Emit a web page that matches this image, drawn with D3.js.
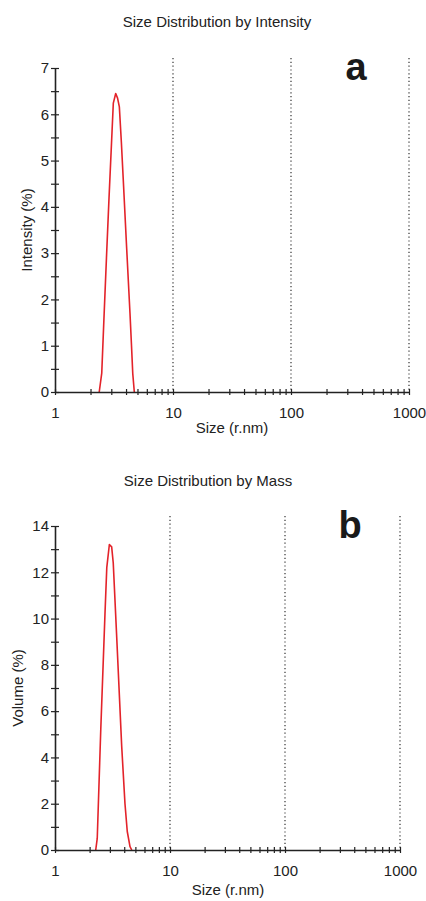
<!DOCTYPE html>
<html>
<head>
<meta charset="utf-8">
<script src="https://cdn.jsdelivr.net/npm/d3@7"></script>
<style>
  body { margin: 0; background: #fff; }
  svg text { font-family: "Liberation Sans", Arial, sans-serif; fill: #222; }
</style>
</head>
<body>
<svg id="chart" width="426" height="901"></svg>
<script>
// panel a - intensity
const sizesA = [2.37, 2.49, 2.60, 2.73, 2.87, 3.02, 3.12, 3.27, 3.39, 3.51, 3.65, 3.79, 4.05, 4.32, 4.45, 4.56, 4.70];
const intensityA = [0, 0.41, 1.6, 2.9, 4.2, 5.44, 6.24, 6.45, 6.35, 6.16, 5.4, 4.58, 3.1, 1.7, 1.0, 0.4, 0];

// panel b - mass
const sizesB = [2.26, 2.33, 2.50, 2.72, 2.82, 2.97, 3.11, 3.21, 3.44, 3.80, 4.06, 4.25, 4.49, 4.65];
const volumeB = [0, 0.5, 5.2, 10.2, 12.2, 13.2, 13.1, 12.4, 9.2, 4.5, 2.0, 0.8, 0.15, 0];

const xDomain = [1, 1000];
const xLabelTicks = [1, 10, 100, 1000];
const gridTicks = [10, 100, 1000];
const yTicksA = [0, 1, 2, 3, 4, 5, 6, 7];
const yTicksB = [0, 2, 4, 6, 8, 10, 12, 14];

const svg = d3.select("#chart");

function drawPanel(opt) {
    const x = d3.scaleLog().domain(xDomain).range([opt.left, opt.right]);
    const y = d3.scaleLinear().domain([0, d3.max(opt.yTicks)]).range([opt.bottom, opt.top]);
    const g = svg.append("g");

    // dotted decade lines
    g.selectAll("line.grid")
        .data(gridTicks)
        .enter().append("line")
        .attr("class", "grid")
        .attr("x1", d => x(d)).attr("x2", d => x(d))
        .attr("y1", opt.top - 10).attr("y2", opt.bottom)
        .attr("stroke", "#333")
        .attr("stroke-width", 1.2)
        .attr("stroke-dasharray", "1.2,2.6");

    // curve
    const pts = opt.sizes.map((s, i) => [s, opt.values[i]]);
    const line = d3.line()
        .x(d => x(d[0]))
        .y(d => y(d[1]));
    g.append("path")
        .datum(pts)
        .attr("fill", "none")
        .attr("stroke", "#e3232a")
        .attr("stroke-width", 1.6)
        .attr("stroke-linejoin", "round")
        .attr("d", line);

    // x axis: all 1..9 per decade, labels only at decades
    const allTicks = [];
    for (let p = 1; p < 1000; p *= 10) {
        for (let k = 1; k < 10; k++) allTicks.push(k * p);
    }
    allTicks.push(1000);
    const xAxis = g.append("g")
        .attr("transform", `translate(0,${opt.bottom})`)
        .call(d3.axisBottom(x).tickValues(allTicks).tickSize(3).tickSizeOuter(0)
            .tickFormat(d => xLabelTicks.includes(d) ? d : ""));
    xAxis.selectAll(".tick line").attr("y1", -3).attr("stroke", "#222").attr("stroke-width", 1.2);
    xAxis.selectAll(".tick text").attr("y", 26).attr("dy", 0).style("font-size", "15px");
    xAxis.select(".domain").attr("stroke", "#222").attr("stroke-width", 1.6);

    // y axis with half-step minor ticks
    const step = opt.yTicks[1] - opt.yTicks[0];
    const minor = opt.yTicks.slice(1).map(v => v - step / 2);
    const yMinor = g.append("g")
        .attr("transform", `translate(${opt.left},0)`)
        .call(d3.axisLeft(y).tickValues(minor).tickSize(4).tickFormat(""));
    yMinor.select(".domain").remove();
    yMinor.selectAll(".tick line").attr("x1", 4).attr("stroke", "#222").attr("stroke-width", 1.2);

    const yAxis = g.append("g")
        .attr("transform", `translate(${opt.left},0)`)
        .call(d3.axisLeft(y).tickValues(opt.yTicks).tickSize(4).tickSizeOuter(0)
            .tickPadding(2).tickFormat(d3.format("d")));
    yAxis.selectAll(".tick line").attr("x1", 4).attr("stroke", "#222").attr("stroke-width", 1.2);
    yAxis.selectAll(".tick text").style("font-size", "15px");
    yAxis.select(".domain").attr("stroke", "#222").attr("stroke-width", 1.6);

    // titles and labels
    g.append("text")
        .attr("x", opt.titleX).attr("y", opt.titleY)
        .attr("text-anchor", "middle")
        .style("font-size", "15px")
        .text(opt.title);
    g.append("text")
        .attr("x", opt.xLabelX).attr("y", opt.xLabelY)
        .attr("text-anchor", "middle")
        .style("font-size", "15px")
        .text("Size (r.nm)");
    g.append("text")
        .attr("transform", `translate(${opt.yLabelX},${(opt.top + opt.bottom) / 2}) rotate(-90)`)
        .attr("text-anchor", "middle")
        .style("font-size", "15px")
        .text(opt.yLabel);
    g.append("text")
        .attr("x", opt.letterX).attr("y", opt.letterY)
        .attr("text-anchor", "middle")
        .style("font-size", "38px")
        .attr("font-weight", "bold")
        .style("fill", "#1a1a1a")
        .text(opt.letter);
}

drawPanel({
    sizes: sizesA, values: intensityA, yTicks: yTicksA,
    left: 55, right: 409, top: 68, bottom: 392,
    title: "Size Distribution by Intensity", titleX: 217, titleY: 27,
    xLabelX: 232, xLabelY: 433,
    yLabel: "Intensity (%)", yLabelX: 32,
    letter: "a", letterX: 356, letterY: 80
});

drawPanel({
    sizes: sizesB, values: volumeB, yTicks: yTicksB,
    left: 55, right: 400, top: 526, bottom: 850,
    title: "Size Distribution by Mass", titleX: 208, titleY: 486,
    xLabelX: 228, xLabelY: 895,
    yLabel: "Volume (%)", yLabelX: 23,
    letter: "b", letterX: 350, letterY: 538
});
</script>
</body>
</html>
